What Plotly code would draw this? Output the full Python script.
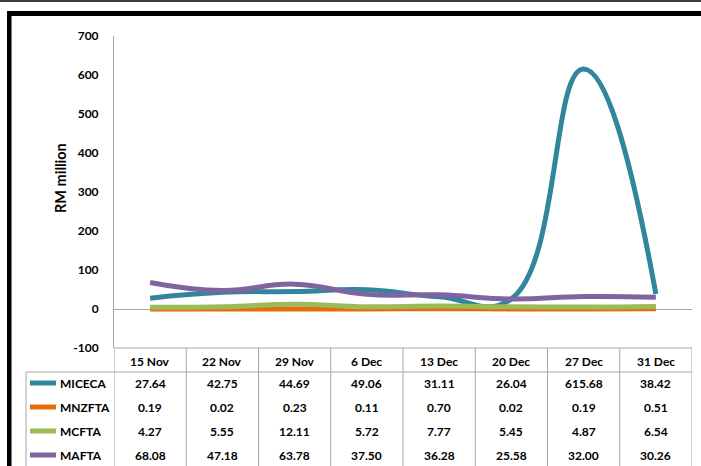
import plotly.graph_objects as go

categories = ["15 Nov", "22 Nov", "29 Nov", "6 Dec", "13 Dec", "20 Dec", "27 Dec", "31 Dec"]
series_names = ["MICECA", "MNZFTA", "MCFTA", "MAFTA"]
miceca = [27.64, 42.75, 44.69, 49.06, 31.11, 26.04, 615.68, 38.42]
mnzfta = [0.19, 0.02, 0.23, 0.11, 0.70, 0.02, 0.19, 0.51]
mcfta = [4.27, 5.55, 12.11, 5.72, 7.77, 5.45, 4.87, 6.54]
mafta = [68.08, 47.18, 63.78, 37.50, 36.28, 25.58, 32.00, 30.26]
y_ticks = [-100, 0, 100, 200, 300, 400, 500, 600, 700]
colors = ["#31859C", "#E46C0A", "#9BBB59", "#8064A2"]

series_values = [miceca, mnzfta, mcfta, mafta]

W, H = 701, 466
FONT = "Lato"
GRAY = "#A6A6A6"


def px(x):
    return x / W


def py(y):
    return 1 - y / H


fig = go.Figure()
for name, vals, col in zip(series_names, series_values, colors):
    fig.add_trace(go.Scatter(
        x=list(range(len(categories))), y=vals, name=name, mode="lines",
        line=dict(color=col, width=5, shape="spline", smoothing=1.3),
        hoverinfo="skip"))

x0p, x1p = 114, 692
y0p, y1p = 36, 348

fig.update_layout(
    width=W, height=H, margin=dict(l=0, r=0, t=0, b=0, autoexpand=False),
    paper_bgcolor="white", plot_bgcolor="white", showlegend=False,
    font=dict(family=FONT, size=12, color="black"),
    xaxis=dict(domain=[px(x0p), px(x1p)], range=[-0.5, len(categories) - 0.5],
               showticklabels=False, showgrid=False, zeroline=False, automargin=False,
               showline=False, fixedrange=True),
    yaxis=dict(domain=[py(y1p), py(y0p)], range=[-100, 700],
               tickvals=y_ticks, ticktext=[str(v) for v in y_ticks],
               tickfont=dict(family=FONT, size=12, color="black", weight="bold"),
               ticks="", ticklabelstandoff=12, automargin=False,
               showgrid=False, zeroline=True, zerolinecolor=GRAY, zerolinewidth=1,
               showline=True, linecolor=GRAY, linewidth=1, fixedrange=True),
)

shapes = []
# outer decorations
shapes.append(dict(type="rect", xref="paper", yref="paper", x0=0, x1=1,
                   y0=py(2), y1=py(0), fillcolor="#3a3a3a", line=dict(width=0)))
shapes.append(dict(type="rect", xref="paper", yref="paper", x0=px(7), x1=1,
                   y0=py(16), y1=py(11), fillcolor="black", line=dict(width=0)))
shapes.append(dict(type="rect", xref="paper", yref="paper", x0=px(7), x1=px(11.5),
                   y0=0, y1=py(11), fillcolor="black", line=dict(width=0)))

# table
line_style = dict(color=GRAY, width=1)
shapes.append(dict(type="line", xref="x", yref="paper", x0=-0.5, x1=len(categories) - 0.5,
                   y0=py(348), y1=py(348), line=line_style))
shapes.append(dict(type="line", xref="paper", yref="paper", x0=px(26), x1=px(x1p),
                   y0=py(372), y1=py(372), line=line_style))
shapes.append(dict(type="line", xref="paper", yref="paper", x0=px(26), x1=px(26),
                   y0=0, y1=py(372), line=line_style))
for i in range(len(categories) + 1):
    shapes.append(dict(type="line", xref="x", yref="paper", x0=i - 0.5, x1=i - 0.5,
                       y0=0, y1=py(348), line=line_style))

annotations = []
bold = dict(family=FONT, size=12, color="black", weight="bold")
for i, c in enumerate(categories):
    annotations.append(dict(x=i, y=py(361), xref="x", yref="paper", text=c,
                            showarrow=False, font=bold, xanchor="center", yanchor="middle"))
row_y = [383, 407, 431, 455]
for r, (name, vals, col) in enumerate(zip(series_names, series_values, colors)):
    yy = py(row_y[r])
    shapes.append(dict(type="line", xref="paper", yref="paper", x0=px(30), x1=px(56),
                       y0=yy, y1=yy, line=dict(color=col, width=5)))
    annotations.append(dict(x=px(58), y=yy, xref="paper", yref="paper", text=name,
                            showarrow=False, font=bold, xanchor="left", yanchor="middle"))
    for i, v in enumerate(vals):
        annotations.append(dict(x=i, y=yy, xref="x", yref="paper", text=f"{v:.2f}",
                                showarrow=False, font=bold, xanchor="center", yanchor="middle"))

annotations.append(dict(x=px(61), y=py(178), xref="paper", yref="paper", text="RM million",
                        textangle=-90, showarrow=False,
                        font=dict(family=FONT, size=14.5, color="black", weight="bold"),
                        xanchor="center", yanchor="middle"))

fig.update_layout(shapes=shapes, annotations=annotations)
fig.write_html("out.html", config={"displayModeBar": False},
               post_script="document.body.style.margin='0';document.body.style.overflow='hidden';")
